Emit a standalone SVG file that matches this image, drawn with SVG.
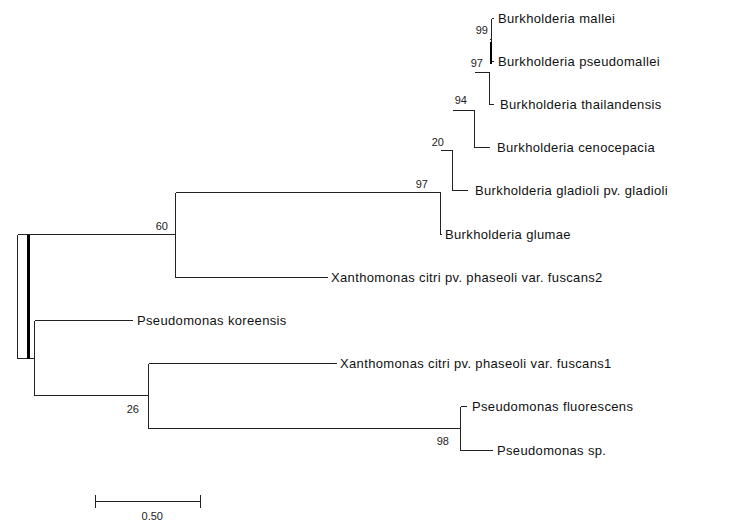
<svg xmlns="http://www.w3.org/2000/svg" width="747" height="525" viewBox="0 0 747 525">
<style>
.br{stroke:#222;stroke-width:1;fill:none;shape-rendering:crispEdges}
.tx{font-family:"Liberation Sans",Arial,sans-serif;font-size:13px;letter-spacing:0.35px;fill:#111}
.bs{font-family:"Liberation Sans",Arial,sans-serif;font-size:11px;fill:#222;text-anchor:end}
</style>
<rect width="747" height="525" fill="#fff"/>
<g id="connectors">
<path class="br" d="M17.5,234.5V358.5H34.5M17.5,234.5H175.5"/>
<line x1="28" y1="234.5" x2="28" y2="358.5" stroke="#000" stroke-width="3" shape-rendering="crispEdges"/>
<path class="br" d="M175.5,192.5V277.5H328"/>
<path class="br" d="M175.5,192.5H440.5V234.5H442"/>
<path class="br" d="M440.5,150.5H452.5V190.5H468"/>
<path class="br" d="M452.5,110.5H474.5V147.5H490"/>
<path class="br" d="M474.5,72.5H489.5V104.5H494"/>
<path class="br" d="M489.5,39.5H491.5M491.5,18.5V61.5M491.5,18.5H494M491.5,61.5H494"/>
<line x1="490.5" y1="42" x2="490.5" y2="64" stroke="#000" stroke-width="2" shape-rendering="crispEdges"/>
<path class="br" d="M34.5,320.5V395.5H148.5M34.5,320.5H133"/>
<path class="br" d="M148.5,363.5V428.5H460.5M148.5,363.5H337"/>
<path class="br" d="M460.5,406.5V450.5H493M460.5,406.5H467"/>
<path class="br" d="M95.5,501.5H200.5M95.5,495V508M200.5,495V508"/>
</g>
<g id="n-mallei"><text class="tx" x="498" y="23">Burkholderia mallei</text></g>
<g id="n-pseudomallei"><text class="tx" x="498" y="66">Burkholderia pseudomallei</text></g>
<g id="n-thailandensis"><text class="tx" x="500" y="109">Burkholderia thailandensis</text></g>
<g id="n-cenocepacia"><text class="tx" x="497" y="152">Burkholderia cenocepacia</text></g>
<g id="n-gladioli"><text class="tx" x="475" y="195">Burkholderia gladioli pv. gladioli</text></g>
<g id="n-glumae"><text class="tx" x="445" y="239">Burkholderia glumae</text></g>
<g id="n-fuscans2"><text class="tx" x="331" y="282">Xanthomonas citri pv. phaseoli var. fuscans2</text></g>
<g id="n-koreensis"><text class="tx" x="137" y="325">Pseudomonas koreensis</text></g>
<g id="n-fuscans1"><text class="tx" x="340" y="368">Xanthomonas citri pv. phaseoli var. fuscans1</text></g>
<g id="n-fluorescens"><text class="tx" x="472" y="411">Pseudomonas fluorescens</text></g>
<g id="n-sp"><text class="tx" x="497" y="455">Pseudomonas sp.</text></g>
<g id="bootstrap">
<text class="bs" x="488" y="34">99</text>
<text class="bs" x="483" y="67">97</text>
<text class="bs" x="467" y="104">94</text>
<text class="bs" x="444" y="146">20</text>
<text class="bs" x="428" y="188">97</text>
<text class="bs" x="168" y="230">60</text>
<text class="bs" x="139" y="413">26</text>
<text class="bs" x="449" y="445">98</text>
</g>
<g id="scale"><text class="bs" x="163" y="520">0.50</text></g>
</svg>
